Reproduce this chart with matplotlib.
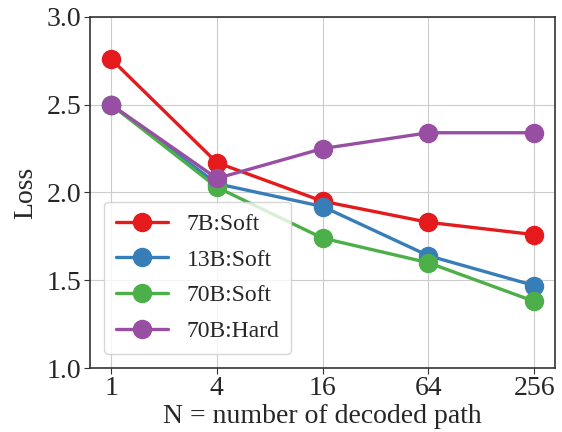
import matplotlib
matplotlib.use("Agg")
import matplotlib.pyplot as plt
import seaborn as sns

# Loss vs number of decoded paths
n_paths = [1, 4, 16, 64, 256]
loss_7b_soft = [2.76, 2.17, 1.95, 1.83, 1.76]
loss_13b_soft = [2.50, 2.05, 1.92, 1.64, 1.47]
loss_70b_soft = [2.50, 2.03, 1.74, 1.60, 1.38]
loss_70b_hard = [2.50, 2.08, 2.25, 2.34, 2.34]

series = [
    ('7B:Soft', loss_7b_soft, '#e41a1c'),
    ('13B:Soft', loss_13b_soft, '#377eb8'),
    ('70B:Soft', loss_70b_soft, '#4daf4a'),
    ('70B:Hard', loss_70b_hard, '#984ea3'),
]

sns.set_style('whitegrid')
plt.rcParams['font.family'] = ['Liberation Serif', 'DejaVu Serif']

fig = plt.figure(figsize=(5.62, 4.32), dpi=100)
ax = fig.add_axes([0.16, 0.148, 0.828, 0.813])

for label, vals, color in series:
    ax.plot(n_paths, vals, marker='o', color=color, linewidth=2.4,
            markersize=13, label=label)

ax.set_xscale('log', base=2)
ax.set_xticks(n_paths)
ax.set_xticklabels([str(n) for n in n_paths])
ax.minorticks_off()
ax.set_ylim(1.0, 3.0)
ax.set_yticks([1.0, 1.5, 2.0, 2.5, 3.0])

ax.tick_params(axis='both', labelsize=20, length=4, color='#333333',
               left=True, bottom=True, pad=2)
ax.set_xlabel('N = number of decoded path', fontsize=20, labelpad=2)
ax.set_ylabel('Loss', fontsize=20, labelpad=6)

for spine in ax.spines.values():
    spine.set_color('#333333')
    spine.set_linewidth(1.2)

ax.legend(loc='lower left', fontsize=17, frameon=True, handlelength=2.2,
          borderpad=0.5, labelspacing=0.6, borderaxespad=0.6)

fig.savefig('out.png', dpi=100)
